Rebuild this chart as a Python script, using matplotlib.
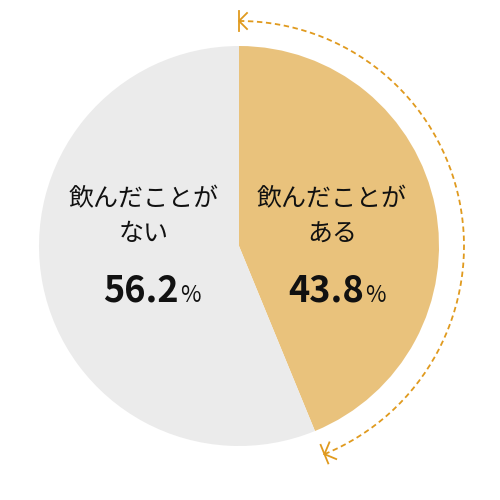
import matplotlib
matplotlib.use("Agg")
import matplotlib.pyplot as plt
import numpy as np
from matplotlib.patches import Arc

labels = ["飲んだことが\nある", "飲んだことが\nない"]
values = [43.8, 56.2]
colors = ["#E9C27C", "#EBEBEB"]

plt.rcParams['font.family'] = ['Noto Sans CJK JP', 'DejaVu Sans']
fig = plt.figure(figsize=(5, 5), dpi=100)
ax = fig.add_axes([0, 0, 1, 1])

cx, cy, r = 239, 254, 200
ax.pie(values, colors=colors, startangle=90, counterclock=False,
       center=(cx, cy), radius=r, wedgeprops=dict(linewidth=0), frame=True)
ax.set_xlim(0, 500); ax.set_ylim(0, 500); ax.set_aspect('equal'); ax.axis('off')

oc = "#E09A1E"
R = 225
end = 90 - values[0] / 100 * 360
ax.add_patch(Arc((cx, cy), 2 * R, 2 * R, theta1=end, theta2=90, color=oc,
                 lw=1.3, ls=(0, (3, 2))))
# top arrow
tx, ty = cx, cy + R
ax.plot([tx + 8, tx, tx + 8], [ty + 8, ty, ty - 8], color=oc, lw=1.3)
ax.plot([tx, tx], [ty - 10, ty + 10], color=oc, lw=1.3)
# bottom arrow
a = np.radians(end)
bx, by = cx + R * np.cos(a), cy + R * np.sin(a)
t = np.array([np.sin(a), -np.cos(a)])
n = np.array([np.cos(a), np.sin(a)])
for s in (1, -1):
    p = np.array([bx, by]) - 9 * t + s * 9 * n
    ax.plot([p[0], bx], [p[1], by], color=oc, lw=1.3)
ax.plot([bx - 10 * n[0], bx + 10 * n[0]], [by - 10 * n[1], by + 10 * n[1]], color=oc, lw=1.3)

def label(x, text, pct, right):
    ax.text(x, 283, text, ha='center', va='center', fontsize=18, linespacing=1.45, color='#111')
    ax.text(right, 198, f"{pct}", ha='right', va='baseline', fontsize=26, fontweight='bold', color='#111')
    ax.text(right + 1, 198, "%", ha='left', va='baseline', fontsize=16, color='#111')

label(332, labels[0], values[0], 364)
label(144, labels[1], values[1], 179)

fig.savefig("out.png", dpi=100)
